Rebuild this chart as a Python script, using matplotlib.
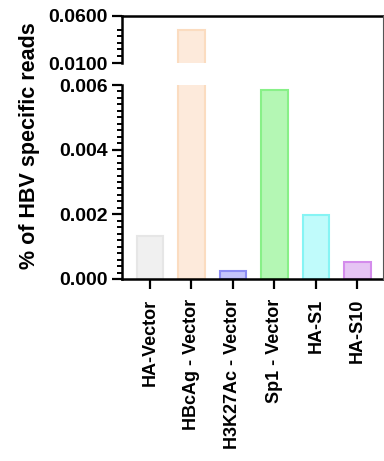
import matplotlib
matplotlib.use('Agg')
import matplotlib.pyplot as plt
from matplotlib.lines import Line2D
from matplotlib.ticker import FixedLocator, MultipleLocator, FormatStrFormatter

plt.rcParams['font.family'] = ['Liberation Sans', 'DejaVu Sans']
plt.rcParams['font.weight'] = 'bold'

# Datos
grupos = ['HA-Vector', 'HBcAg - Vector', 'H3K27Ac - Vector', 'Sp1 - Vector', 'HA-S1', 'HA-S10']
valores = [0.00133, 0.0450, 0.000255, 0.00585, 0.00197, 0.00053]
rellenos = ['#f0f0f0', '#fdeadb', '#c4c4fb', '#b4f7b4', '#c0fbfb', '#e6c4f4']
bordes = ['#e6e6e6', '#fbdcc0', '#8c8cf4', '#88f088', '#86f4f4', '#d48cec']

fig = plt.figure(figsize=(3.84, 4.61), dpi=100)
ax_sup = fig.add_axes([0.3177, 0.8633, 0.6823, 0.1020])
ax_inf = fig.add_axes([0.3177, 0.3948, 0.6823, 0.4208])

x = list(range(len(grupos)))
for ax in (ax_sup, ax_inf):
    ax.bar(x, valores, width=0.64, color=rellenos, edgecolor=bordes, linewidth=1.5)
    ax.set_xlim(-0.67, 5.64)
    ax.spines['right'].set_visible(False)
    for s in ('left', 'bottom', 'top'):
        ax.spines[s].set_linewidth(1.8)
    ax.tick_params(axis='y', which='major', length=7, width=1.6, labelsize=14, pad=3)
    ax.tick_params(axis='y', which='minor', length=3.5, width=1.4)

# Panel superior
ax_sup.set_ylim(0.01, 0.06)
ax_sup.spines['bottom'].set_visible(False)
ax_sup.set_yticks([0.01, 0.06])
ax_sup.yaxis.set_minor_locator(FixedLocator([0.0175, 0.0245, 0.0315, 0.0385, 0.0455]))
ax_sup.yaxis.set_major_formatter(FormatStrFormatter('%.4f'))
ax_sup.set_xticks([])

# Panel inferior
ax_inf.set_ylim(0, 0.006)
ax_inf.spines['top'].set_visible(False)
ax_inf.set_yticks([0, 0.002, 0.004, 0.006])
ax_inf.yaxis.set_minor_locator(MultipleLocator(0.0002))
ax_inf.yaxis.set_major_formatter(FormatStrFormatter('%.3f'))
ax_inf.set_xticks(x)
ax_inf.set_xticklabels(grupos, rotation=90, fontsize=13, fontweight='bold')
ax_inf.tick_params(axis='x', length=7, width=1.6, pad=7)

for lab in ax_sup.get_yticklabels() + ax_inf.get_yticklabels():
    lab.set_fontweight('bold')

fig.text(0.078, 0.685, '% of HBV specific reads', rotation=90, ha='center', va='center',
         fontsize=15.5, fontweight='bold')

# línea del borde derecho
fig.add_artist(Line2D([0.997, 0.997], [0.3948, 0.9653], color='#555555', linewidth=0.8))

fig.savefig('out.png', dpi=100)
